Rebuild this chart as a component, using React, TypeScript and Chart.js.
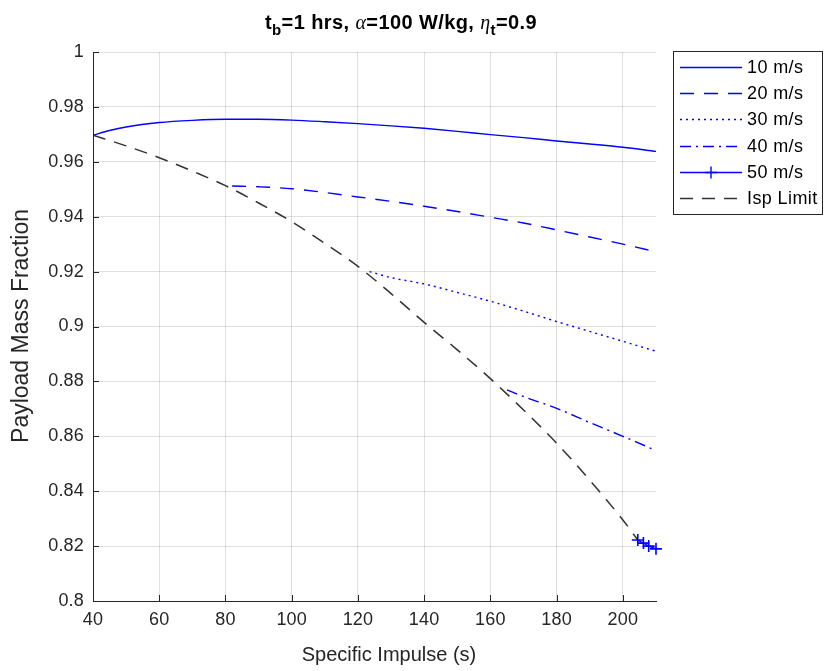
import React, { useEffect, useRef } from 'react';
import { Chart, registerables } from 'chart.js';

Chart.register(...registerables);

// ---------- data ----------
const seriesLabels = ['10 m/s', '20 m/s', '30 m/s', '40 m/s', '50 m/s', 'Isp Limit'];

const isp10 = [40, 45, 50, 60, 70, 80, 90, 100, 110, 120, 130, 140, 150, 160, 170, 180, 190, 200, 210];
const frac10 = [0.9697, 0.9714, 0.9727, 0.9743, 0.9751, 0.9755, 0.9755, 0.9752, 0.9746, 0.9739, 0.9731, 0.9722, 0.9711, 0.9699, 0.9688, 0.9676, 0.9665, 0.9653, 0.9638];

const isp20 = [82, 90, 100, 110, 120, 130, 140, 150, 160, 170, 180, 190, 200, 210];
const frac20 = [0.9512, 0.9509, 0.9502, 0.9488, 0.9472, 0.9456, 0.9438, 0.9419, 0.9398, 0.9377, 0.9352, 0.9326, 0.93, 0.9272];

const isp30 = [123.5, 130, 140, 150, 160, 170, 180, 190, 200, 210];
const frac30 = [0.92, 0.9178, 0.9155, 0.9124, 0.9092, 0.9056, 0.9018, 0.8982, 0.8946, 0.891];

const isp40 = [165, 170, 180, 190, 200, 210];
const frac40 = [0.8769, 0.8745, 0.8702, 0.865, 0.86, 0.8548];

const isp50 = [204.5, 206.2, 207.8, 210];
const frac50 = [0.8222, 0.8211, 0.82, 0.819];

const ispLimit = [40, 50, 60, 70, 80, 90, 100, 110, 120, 130, 140, 150, 160, 170, 180, 190, 200, 204.5];
const fracLimit = [0.9697, 0.9658, 0.9615, 0.9566, 0.9513, 0.945, 0.9382, 0.9303, 0.9219, 0.912, 0.9015, 0.8915, 0.881, 0.8696, 0.8575, 0.844, 0.8295, 0.8222];

const xTicks = [40, 60, 80, 100, 120, 140, 160, 180, 200];
const yTicks = [0.8, 0.82, 0.84, 0.86, 0.88, 0.9, 0.92, 0.94, 0.96, 0.98, 1];
const yTickLabels = ['0.8', '0.82', '0.84', '0.86', '0.88', '0.9', '0.92', '0.94', '0.96', '0.98', '1'];

const xAxisTitle = 'Specific Impulse (s)';
const yAxisTitle = 'Payload Mass Fraction';

// ---------- styles ----------
const FONT = '"Liberation Sans", Arial, Helvetica, sans-serif';
const AXIS = '#262626';
const GRID = 'rgba(38,38,38,0.15)';
const BLUE = '#0000FF';
const DARK = '#333333';

const pts = (xs: number[], ys: number[]) => xs.map((x, i) => ({ x, y: ys[i] }));

const spacingPlugin = {
  id: 'spacing',
  beforeDraw(chart: any) {
    chart.ctx.letterSpacing = '0.2px';
  },
};

const textPlugin = {
  id: 'richText',
  afterDraw(chart: any) {
    const { ctx } = chart;
    ctx.save();
    // title with subscripts
    ctx.letterSpacing = '0.4px';
    const big = 'bold 20px ' + FONT;
    const sub = 'bold 15px ' + FONT;
    const greek = 'italic 20px "Liberation Serif", "DejaVu Serif", serif';
    const segs = [
      { t: 't', f: big, dy: 0 },
      { t: 'b', f: sub, dy: 6 },
      { t: '=1 hrs, ', f: big, dy: 0 },
      { t: 'α', f: greek, dy: 0 },
      { t: '=100 W/kg, ', f: big, dy: 0 },
      { t: 'η', f: greek, dy: 0 },
      { t: 't', f: sub, dy: 6 },
      { t: '=0.9', f: big, dy: 0 },
    ];
    let total = 0;
    const widths = segs.map((s) => {
      ctx.font = s.f;
      const w = ctx.measureText(s.t).width;
      total += w;
      return w;
    });
    let x = 401 - total / 2;
    ctx.fillStyle = '#000';
    ctx.textBaseline = 'alphabetic';
    ctx.textAlign = 'left';
    segs.forEach((s, i) => {
      ctx.font = s.f;
      ctx.fillText(s.t, x, 29 + s.dy);
      x += widths[i];
    });

    // x axis title
    ctx.letterSpacing = '0px';
    ctx.font = '20px ' + FONT;
    ctx.fillStyle = AXIS;
    ctx.textAlign = 'center';
    ctx.textBaseline = 'middle';
    ctx.fillText(xAxisTitle, 389, 655);

    // y axis title
    ctx.font = '23px ' + FONT;
    ctx.translate(22, 326);
    ctx.rotate(-Math.PI / 2);
    ctx.fillText(yAxisTitle, 0, 0);
    ctx.restore();
  },
};

const legendPlugin = {
  id: 'boxLegend',
  afterDraw(chart: any) {
    const { ctx } = chart;
    const bx = 673, by = 51, bw = 149, bh = 163;
    ctx.save();
    ctx.letterSpacing = '0.4px';
    ctx.fillStyle = '#fff';
    ctx.fillRect(bx, by, bw, bh);
    ctx.strokeStyle = AXIS;
    ctx.lineWidth = 1;
    ctx.setLineDash([]);
    ctx.strokeRect(bx + 0.5, by + 0.5, bw, bh);
    ctx.font = '18px ' + FONT;
    ctx.textBaseline = 'middle';
    ctx.textAlign = 'left';
    chart.data.datasets.forEach((ds: any, i: number) => {
      const y = Math.round(67 + i * 26.2) + 0.5;
      ctx.strokeStyle = ds.borderColor;
      ctx.lineWidth = ds.borderWidth;
      ctx.setLineDash(ds.borderDash || []);
      ctx.beginPath();
      ctx.moveTo(680, y);
      ctx.lineTo(742, y);
      ctx.stroke();
      ctx.setLineDash([]);
      if (ds.pointStyle === 'cross') {
        ctx.beginPath();
        ctx.moveTo(711, y - 6);
        ctx.lineTo(711, y + 6);
        ctx.moveTo(705, y);
        ctx.lineTo(717, y);
        ctx.stroke();
      }
      ctx.fillStyle = '#000';
      ctx.fillText(ds.label, 747, y + 1);
    });
    ctx.restore();
  },
};

const inwardTicks = {
  id: 'inwardTicks',
  afterDraw(chart: any) {
    const { ctx, chartArea, scales } = chart;
    ctx.save();
    ctx.strokeStyle = AXIS;
    ctx.lineWidth = 1;
    ctx.beginPath();
    xTicks.forEach((v) => {
      const px = Math.round(scales.x.getPixelForValue(v)) + 0.5;
      ctx.moveTo(px, chartArea.bottom);
      ctx.lineTo(px, chartArea.bottom - 6);
    });
    yTicks.forEach((v) => {
      const py = Math.round(scales.y.getPixelForValue(v)) + 0.5;
      ctx.moveTo(chartArea.left, py);
      ctx.lineTo(chartArea.left + 6, py);
    });
    ctx.stroke();
    ctx.restore();
  },
};

export default function App() {
  const ref = useRef<HTMLCanvasElement>(null);
  useEffect(() => {
    const canvas = ref.current;
    if (!canvas) return;
    const common = { pointRadius: 0, cubicInterpolationMode: 'monotone', fill: false, borderWidth: 1.4 };
    const chart = new Chart(canvas, {
      type: 'line',
      data: {
        datasets: [
          { ...common, label: seriesLabels[0], data: pts(isp10, frac10), borderColor: BLUE, borderDash: [] },
          { ...common, label: seriesLabels[1], data: pts(isp20, frac20), borderColor: BLUE, borderDash: [14, 10] },
          { ...common, label: seriesLabels[2], data: pts(isp30, frac30), borderColor: BLUE, borderDash: [2, 4] },
          { ...common, label: seriesLabels[3], data: pts(isp40, frac40), borderColor: BLUE, borderDash: [11, 5, 2, 5] },
          {
            ...common,
            label: seriesLabels[4],
            data: pts(isp50, frac50),
            borderColor: BLUE,
            borderDash: [],
            pointStyle: 'cross',
            pointRadius: 6,
            pointBorderWidth: 1.6,
            pointBorderColor: BLUE,
            pointBackgroundColor: BLUE,
            clip: 10,
          },
          { ...common, label: seriesLabels[5], data: pts(ispLimit, fracLimit), borderColor: DARK, borderDash: [13, 9], borderWidth: 1.5 },
        ] as any,
      },
      options: {
        animation: false,
        responsive: false,
        devicePixelRatio: 1,
        layout: { padding: { top: 52, right: 168, left: 0, bottom: 0 } },
        plugins: { legend: { display: false }, title: { display: false }, tooltip: { enabled: false } },
        scales: {
          x: {
            type: 'linear',
            min: 40,
            max: 210,
            afterBuildTicks: (s: any) => {
              s.ticks = xTicks.map((v) => ({ value: v }));
            },
            afterFit: (s: any) => {
              s.height = 70;
            },
            grid: { color: GRID, drawTicks: false },
            border: { display: true, color: AXIS, width: 1 },
            ticks: { font: { family: FONT, size: 18 }, color: AXIS, padding: 8, maxRotation: 0, autoSkip: false, callback: (v: any) => String(v) },
            title: { display: false },
          },
          y: {
            type: 'linear',
            min: 0.8,
            max: 1,
            afterBuildTicks: (s: any) => {
              s.ticks = yTicks.map((v) => ({ value: v }));
            },
            afterFit: (s: any) => {
              s.width = 93;
            },
            grid: { color: GRID, drawTicks: false },
            border: { display: true, color: AXIS, width: 1 },
            ticks: { font: { family: FONT, size: 18 }, color: AXIS, padding: 9, autoSkip: false, callback: (_v: any, i: number) => yTickLabels[i] },
            title: { display: false },
          },
        },
      } as any,
      plugins: [spacingPlugin, inwardTicks, textPlugin, legendPlugin],
    });
    return () => chart.destroy();
  }, []);
  return <canvas ref={ref} width={824} height={671} style={{ position: 'absolute', left: 0, top: 0, display: 'block' }} />;
}
